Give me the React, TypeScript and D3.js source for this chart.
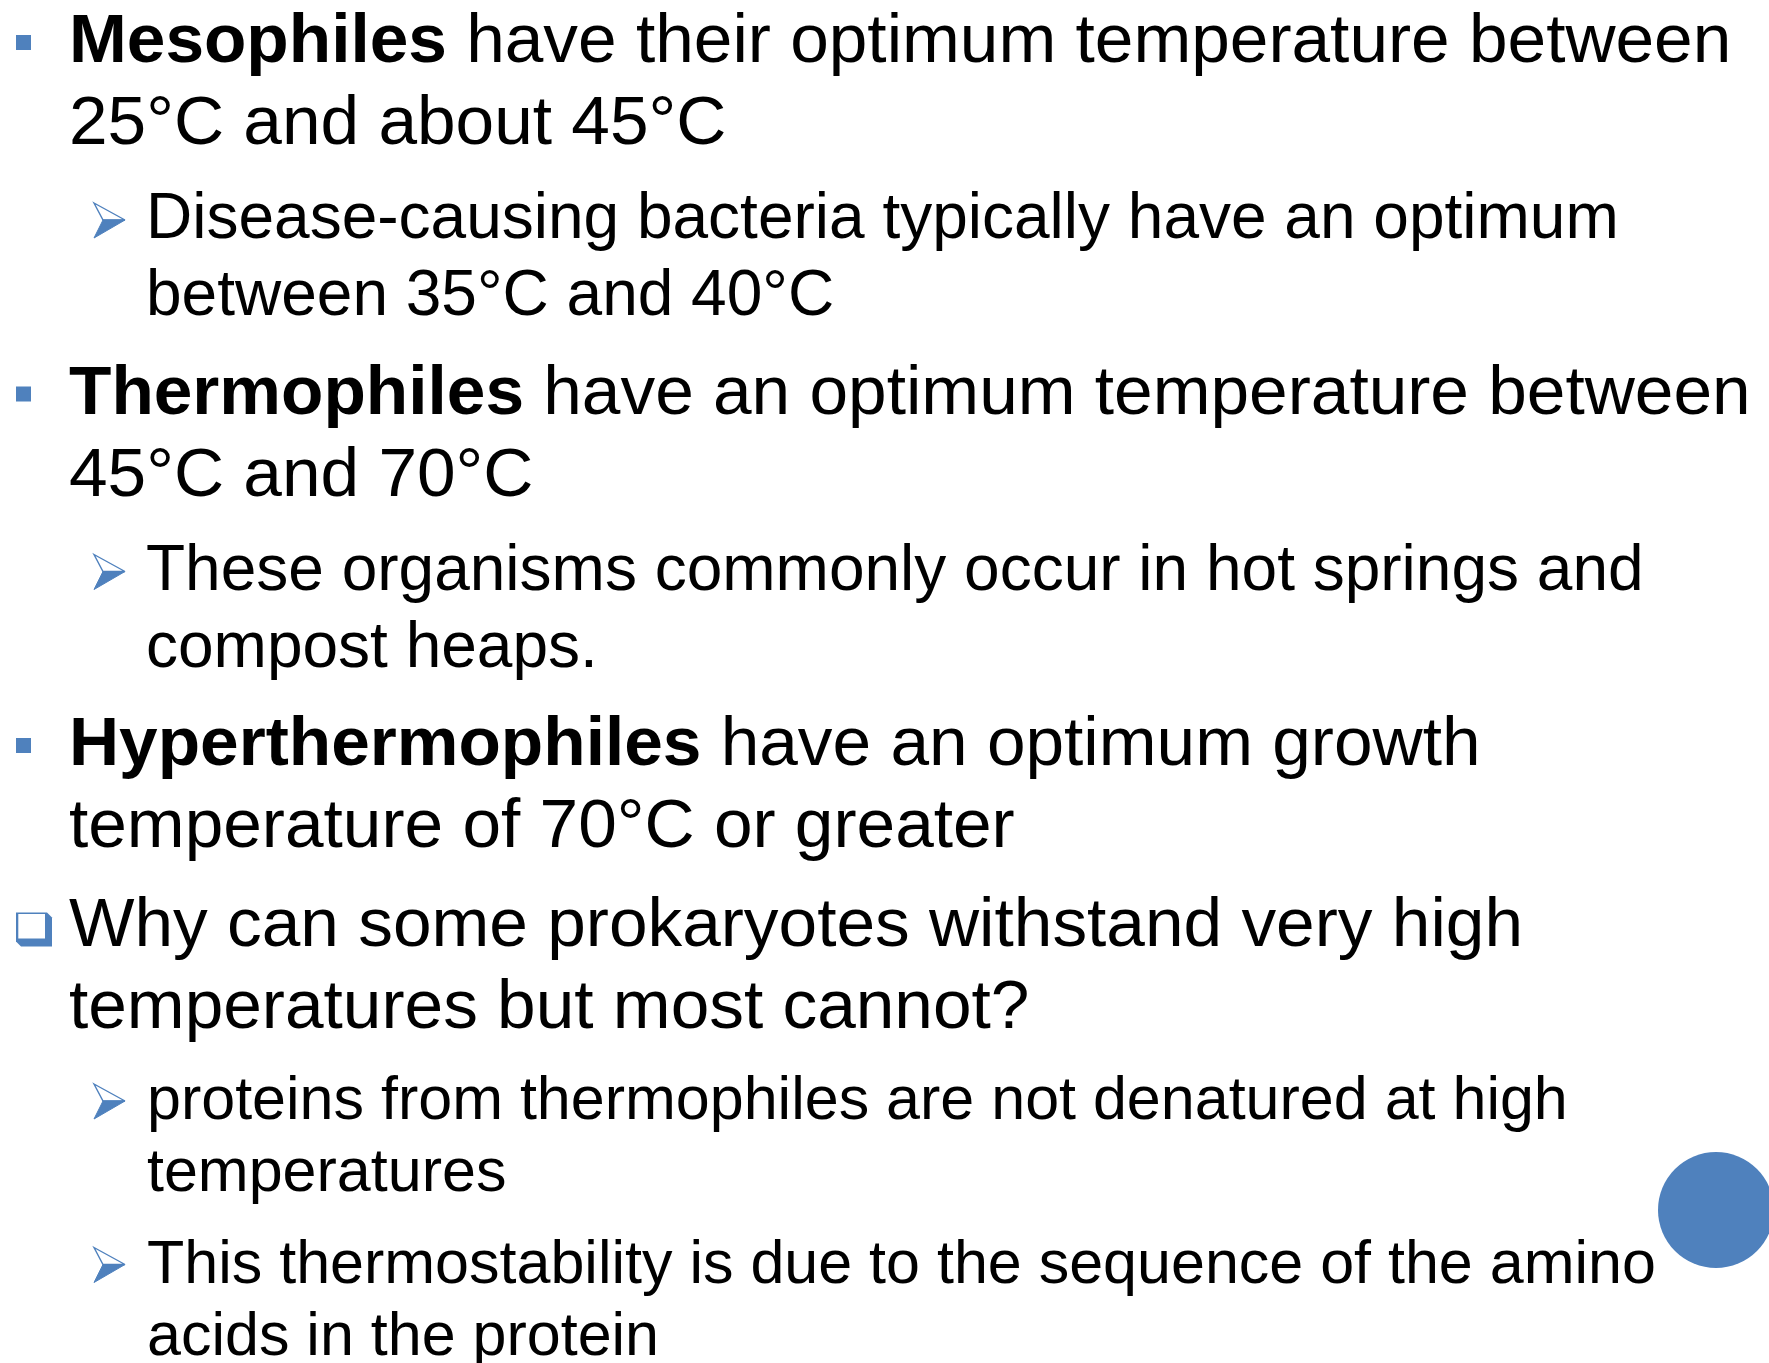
import * as d3 from "d3";
import * as React from "react";

const W = 1769;
const H = 1363;
const BLUE = "#4F81BD";

// slide content, one entry per paragraph, broken into the lines as they wrap on the slide
const paraBullet = ["square", "arrow", "square", "arrow", "square", "box", "arrow", "arrow"];
const paraLevel = [0, 1, 0, 1, 0, 0, 1, 1];
const paraGroup = [0, 0, 0, 0, 0, 1, 1, 1]; // second text block is autofitted a bit smaller
const paraLead = ["Mesophiles", "", "Thermophiles", "", "Hyperthermophiles", "", "", ""];
const paraLines = [
  ["have their optimum temperature between", "25°C and about 45°C"],
  ["Disease-causing bacteria typically have an optimum", "between 35°C and 40°C"],
  ["have an optimum temperature between", "45°C and 70°C"],
  ["These organisms commonly occur in hot springs and", "compost heaps."],
  ["have an optimum growth", "temperature of 70°C or greater"],
  ["Why can some prokaryotes withstand very high", "temperatures but most cannot?"],
  ["proteins from thermophiles are not denatured at high", "temperatures"],
  ["This thermostability is due to the sequence of the amino", "acids in the protein"],
];

function styleFor(i) {
  if (paraLevel[i] === 0) return { x: 69, size: 69.4, step: 82, gap: 16.5 };
  if (paraGroup[i] === 1) return { x: 147, size: 61, step: 72, gap: 19.5 };
  return { x: 146, size: 64, step: 77, gap: 17 };
}

class Slide extends React.Component {
  constructor(props) {
    super(props);
    this.myRef = React.createRef();
  }

  componentDidMount() {
    const svg = d3.select(this.myRef.current);
    svg.selectAll("*").remove();
    svg.attr("viewBox", [0, 0, W, H]);

    svg.append("rect").attr("width", W).attr("height", H).attr("fill", "#ffffff");

    // decorative circle at the lower right edge
    svg.append("circle")
      .attr("cx", 1716)
      .attr("cy", 1210)
      .attr("r", 58)
      .attr("fill", BLUE);

    const g = svg.append("g")
      .attr("font-family", "'Liberation Sans', Arial, sans-serif")
      .attr("fill", "#000000");

    let y = 62;
    for (let i = 0; i < paraLines.length; i++) {
      const st = styleFor(i);
      if (i > 0) y += st.step + st.gap;

      // bullet
      const kind = paraBullet[i];
      if (kind === "square") {
        g.append("rect")
          .attr("x", 16)
          .attr("y", y - 27)
          .attr("width", 15)
          .attr("height", 15)
          .attr("fill", BLUE);
      } else if (kind === "box") {
        const outer = d3.path();
        outer.moveTo(16, y - 33);
        outer.lineTo(47, y - 33);
        outer.lineTo(52, y - 28);
        outer.lineTo(52, y + 1);
        outer.lineTo(21, y + 1);
        outer.lineTo(16, y - 4);
        outer.closePath();
        g.append("path").attr("d", outer.toString()).attr("fill", BLUE);
        g.append("rect")
          .attr("x", 18.3)
          .attr("y", y - 31.5)
          .attr("width", 26.7)
          .attr("height", 24.5)
          .attr("fill", "#ffffff");
      } else {
        const tx = Math.min(st.x, 146);
        const top = d3.path();
        top.moveTo(tx - 52, y - 35);
        top.lineTo(tx - 21, y - 18);
        top.lineTo(tx - 43, y - 18);
        top.closePath();
        g.append("path")
          .attr("d", top.toString())
          .attr("fill", "#ffffff")
          .attr("stroke", BLUE)
          .attr("stroke-width", 1.4)
          .attr("stroke-linejoin", "miter");
        const bottom = d3.path();
        bottom.moveTo(tx - 43, y - 18);
        bottom.lineTo(tx - 21, y - 18);
        bottom.lineTo(tx - 52, y);
        bottom.closePath();
        g.append("path")
          .attr("d", bottom.toString())
          .attr("fill", BLUE)
          .attr("stroke", BLUE)
          .attr("stroke-width", 1);
      }

      // text lines
      paraLines[i].forEach((line, j) => {
        const t = g.append("text")
          .attr("x", st.x)
          .attr("y", y + j * st.step)
          .attr("font-size", st.size)
          .attr("xml:space", "preserve");
        if (j === 0 && paraLead[i]) {
          t.append("tspan").attr("font-weight", "bold").text(paraLead[i]);
          t.append("tspan").text(" " + line);
        } else {
          t.text(line);
        }
      });
      y += (paraLines[i].length - 1) * st.step;
    }
  }

  render() {
    return (
      <svg
        ref={this.myRef}
        width={W}
        height={H}
        style={{ position: "absolute", left: 0, top: 0, display: "block" }}
      ></svg>
    );
  }
}

export default function App() {
  return <Slide />;
}
